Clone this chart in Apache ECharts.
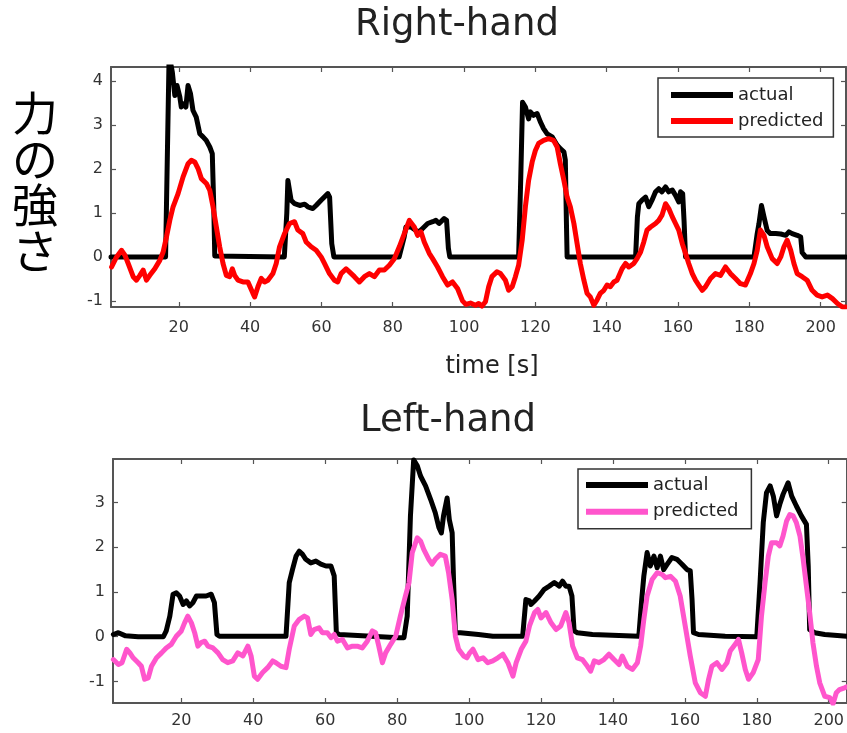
<!DOCTYPE html>
<html>
<head>
<meta charset="utf-8">
<script src="https://cdn.jsdelivr.net/npm/echarts@6/dist/echarts.min.js"></script>
<style>
html,body{margin:0;padding:0;background:#fff;}
#chart{width:847px;height:733px;}
</style>
</head>
<body>
<div id="chart"></div>
<script>
// ---------- data (time [s], force) ----------
const xTicks = [20,40,60,80,100,120,140,160,180,200];
const yTicksRight = [-1,0,1,2,3,4];
const yTicksLeft = [-1,0,1,2,3];

const rightActual = [[1,0],[16.3,0],[17.3,4.6],[18.2,4.2],[18.9,3.67],[19.5,3.9],[20.3,3.64],[20.7,3.41],[21.4,3.48],[22.0,3.41],[22.6,3.9],[23.3,3.71],[24.0,3.33],[24.9,3.18],[25.9,2.8],[26.8,2.73],[27.7,2.65],[28.7,2.5],[29.4,2.35],[29.8,1.2],[30.1,0.02],
[49.6,0],[50.3,1.0],[50.6,1.74],[51.5,1.29],[52.5,1.21],[53.9,1.17],[55.3,1.2],[56.2,1.14],[57.6,1.1],[58.5,1.17],[59.9,1.29],[61.8,1.44],[62.3,1.36],[62.9,0.3],[63.5,0],
[81.8,0],[83.2,0.45],[83.7,0.68],[85.1,0.68],[86.5,0.6],[87.4,0.57],[88.8,0.68],[89.8,0.76],[91.2,0.8],[92.1,0.83],[93.0,0.76],[94.4,0.87],[95.1,0.83],[95.6,0.2],[96,0],
[115.3,0],[115.9,1.8],[116.4,3.52],[117.2,3.41],[118.1,3.14],[118.6,3.3],[119.5,3.22],[120.5,3.26],[121.4,3.07],[122.3,2.92],[123.3,2.8],[124.7,2.73],[126.1,2.54],[127.0,2.46],[128.0,2.39],[128.4,2.2],[128.7,0.8],[128.9,0],
[148.1,0],[148.6,0.9],[149.0,1.21],[149.9,1.29],[150.9,1.36],[151.8,1.14],[152.7,1.29],[153.7,1.48],[154.6,1.55],[155.5,1.48],[156.5,1.59],[157.4,1.48],[158.4,1.52],[159.3,1.4],[160.2,1.25],[160.7,1.48],[161.3,1.44],[161.7,0.8],[162.1,0],
[181.3,0],[182.2,0.53],[182.7,0.76],[183.4,1.17],[184.1,0.91],[185.0,0.6],[185.9,0.53],[187.4,0.53],[188.8,0.52],[190.2,0.49],[191.1,0.57],[192.0,0.53],[193.4,0.49],[194.4,0.45],[194.8,0.1],[195.8,0],[207,0]];

const rightPredicted = [[1.16,-0.23],[2.56,0],[3.96,0.15],[4.89,0.04],[5.82,-0.15],[7.22,-0.45],[8.15,-0.53],[9.09,-0.42],[10.02,-0.30],[10.95,-0.53],[11.88,-0.42],[13.28,-0.27],[14.68,-0.08],[15.62,0.11],[16.55,0.45],[17.48,0.83],[18.41,1.14],[19.81,1.44],[21.21,1.82],[22.61,2.12],[23.54,2.2],[24.48,2.16],[25.41,2.01],[26.34,1.78],[27.74,1.67],[28.68,1.52],[29.61,1.14],[30.54,0.68],[31.47,0.23],[32.41,-0.15],[33.34,-0.42],[34.27,-0.45],[35.02,-0.27],[35.67,-0.42],[36.60,-0.53],[38.00,-0.57],[39.40,-0.57],[40.80,-0.83],[41.27,-0.91],[42.20,-0.68],[43.13,-0.49],[44.07,-0.57],[45.00,-0.53],[46.40,-0.38],[47.33,-0.15],[48.26,0.23],[49.66,0.53],[51.06,0.76],[52.46,0.80],[53.40,0.61],[54.79,0.53],[55.73,0.34],[57.13,0.23],[58.53,0.15],[59.93,0],[60.86,-0.15],[62.26,-0.38],[63.66,-0.53],[64.59,-0.57],[65.52,-0.38],[66.92,-0.27],[67.85,-0.34],[69.25,-0.45],[70.65,-0.57],[72.05,-0.45],[73.45,-0.38],[74.85,-0.45],[76.25,-0.30],[77.65,-0.30],[79.05,-0.19],[80.45,-0.04],[81.85,0.23],[83.25,0.53],[84.65,0.83],[86.04,0.68],[86.98,0.49],[87.91,0.57],[88.84,0.34],[90.24,0.08],[91.18,-0.04],[92.57,-0.23],[93.97,-0.45],[95.37,-0.64],[96.77,-0.57],[98.17,-0.72],[99.57,-1.0],[100.5,-1.08],[101.8,-1.05],[103.2,-1.1],[104.1,-1.06],[105.0,-1.12],[106,-1.02],[106.9,-0.68],[107.8,-0.45],[109.2,-0.34],[110.2,-0.38],[111.6,-0.53],[112.5,-0.76],[113.5,-0.68],[114.4,-0.45],[115.3,-0.19],[116.3,0.38],[117.2,1.14],[118.1,1.74],[119.1,2.16],[120,2.42],[120.9,2.58],[122.3,2.65],[123.7,2.69],[125.1,2.65],[126.1,2.5],[127.0,2.12],[128.0,1.74],[128.9,1.36],[129.8,1.14],[130.8,0.76],[131.7,0.3],[132.6,-0.15],[133.6,-0.53],[134.5,-0.83],[135.4,-0.91],[136.4,-1.1],[137.3,-0.98],[138.2,-0.83],[139.2,-0.76],[140.1,-0.64],[141,-0.68],[142,-0.57],[142.9,-0.53],[144.3,-0.27],[145.3,-0.15],[146.2,-0.23],[147.6,-0.15],[148.5,-0.04],[149.5,0.11],[150.4,0.34],[151.3,0.61],[152.3,0.68],[153.7,0.76],[154.6,0.83],[155.5,0.95],[156.5,1.21],[157.4,1.1],[158.4,0.91],[159.3,0.76],[160.2,0.61],[161.2,0.3],[162.1,0.08],[163,-0.15],[164,-0.38],[164.9,-0.53],[165.8,-0.64],[166.8,-0.76],[167.7,-0.68],[169.1,-0.49],[170.5,-0.38],[171.9,-0.42],[173.3,-0.23],[174.7,-0.38],[176.1,-0.49],[177.5,-0.61],[178.9,-0.64],[180.3,-0.38],[181.3,-0.15],[182.2,0.15],[183.1,0.61],[184.1,0.49],[185.0,0.23],[186.4,-0.04],[187.8,-0.15],[188.8,0],[189.7,0.23],[190.6,0.38],[191.6,0.15],[192.5,-0.15],[193.4,-0.38],[194.8,-0.45],[196.2,-0.53],[197.6,-0.76],[199.0,-0.87],[200.4,-0.91],[201.9,-0.87],[203.3,-0.95],[204.7,-1.06],[206.1,-1.14],[207,-1.14]];

const leftActual = [[1.1,0.05],[2.5,0.09],[4.5,0.02],[8,0],[15,0],[15.8,0.13],[16.8,0.46],[17.7,0.95],[18.6,0.98],[19.5,0.91],[20.5,0.72],[21.4,0.8],[22.3,0.69],[23.2,0.76],[24.2,0.91],[25.5,0.91],[26.9,0.91],[28.3,0.95],[29.2,0.76],[29.9,0.05],[30.6,0.01],
[49.1,0.01],[50.0,1.21],[50.9,1.5],[51.9,1.8],[52.8,1.91],[53.7,1.84],[54.6,1.73],[56,1.65],[57.4,1.69],[58.8,1.62],[60.2,1.58],[61.6,1.58],[62.5,1.36],[63.1,0.09],[63.9,0.05],
[80.5,-0.02],[81.9,-0.02],[82.8,0.46],[83.7,2.7],[84.6,3.95],[85.6,3.82],[86.5,3.59],[87.9,3.37],[89.3,3.07],[90.6,2.77],[91.6,2.44],[92.3,2.32],[92.9,2.7],[93.9,3.1],[94.5,2.62],[95.3,2.32],[95.7,1.21],[96.2,0.09],[97.6,0.09],[102.6,0.05],[106.6,0.01],
[114.9,0.01],[115.8,0.83],[116.8,0.8],[117.2,0.72],[118.2,0.8],[119.5,0.91],[120.9,1.06],[122.3,1.13],[123.7,1.21],[125.1,1.13],[126.0,1.24],[126.9,1.13],[127.8,1.13],[128.6,0.91],[129.2,0.13],[130.1,0.09],[134.3,0.05],
[147.2,0.01],[148,0.83],[148.6,1.36],[149.5,1.88],[150.4,1.58],[151.4,1.8],[152.3,1.54],[153.2,1.8],[154.1,1.5],[155.1,1.62],[156.4,1.77],[157.8,1.73],[159.2,1.62],[160.6,1.5],[161.5,1.47],[162,0.83],[162.4,0.09],[163.8,0.05],[171.2,0.01],
[180,0],[180.9,1.21],[181.8,2.55],[182.7,3.22],[183.7,3.37],[184.6,3.14],[185.5,2.7],[186.4,2.96],[187.3,3.18],[188.7,3.44],[189.7,3.14],[191,2.92],[192.4,2.7],[193.8,2.51],[194.3,1.58],[194.7,0.16],[196.1,0.09],[198.9,0.05],[205,0.01]];

const leftPredicted = [[1.1,-0.51],[2.5,-0.62],[3.5,-0.58],[4.8,-0.28],[5.7,-0.36],[6.6,-0.47],[8,-0.58],[8.9,-0.66],[9.8,-0.95],[10.8,-0.92],[11.7,-0.66],[13.1,-0.47],[14.5,-0.36],[15.8,-0.25],[17.2,-0.17],[18.6,0.01],[20,0.13],[20.9,0.31],[21.8,0.46],[22.8,0.31],[23.7,0.09],[24.6,-0.21],[25.5,-0.13],[26.5,-0.1],[27.4,-0.21],[28.8,-0.25],[30.2,-0.36],[31.5,-0.51],[32.9,-0.58],[34.3,-0.54],[35.7,-0.36],[37.1,-0.43],[38.5,-0.21],[39.4,-0.43],[40.3,-0.88],[41.2,-0.95],[42.6,-0.8],[44,-0.69],[45.4,-0.54],[46.3,-0.58],[47.7,-0.66],[49.1,-0.69],[50,-0.28],[51.4,0.24],[52.8,0.39],[54.2,0.46],[55.1,0.42],[56.0,0.05],[56.9,0.16],[58.3,0.2],[59.2,0.09],[60.6,0.09],[61.6,-0.02],[62.5,0.05],[63.4,-0.1],[64.8,-0.06],[66.2,-0.25],[67.6,-0.21],[68.9,-0.21],[70.3,-0.25],[71.7,-0.1],[73.1,0.13],[74.0,0.09],[74.9,-0.21],[75.9,-0.58],[76.8,-0.36],[78.2,-0.17],[79.6,0.01],[80.9,0.46],[82.3,0.91],[83.3,1.21],[84.2,1.88],[85.6,2.21],[86.5,2.14],[87.4,1.95],[88.8,1.73],[89.7,1.62],[90.6,1.73],[92.0,1.84],[93.4,1.8],[94.3,1.43],[95.3,0.83],[96.2,0.01],[97.1,-0.28],[98.5,-0.43],[99.4,-0.47],[100.2,-0.36],[101.1,-0.28],[102.5,-0.51],[103.9,-0.47],[105.2,-0.58],[106.6,-0.54],[108,-0.47],[109.4,-0.39],[110.8,-0.58],[112.2,-0.88],[113.1,-0.58],[114.5,-0.28],[115.8,-0.1],[116.8,0.24],[118.2,0.54],[119.1,0.61],[120,0.42],[121.4,0.54],[122.8,0.31],[124.2,0.16],[125.5,0.24],[126.9,0.54],[127.8,0.31],[128.8,-0.21],[130.1,-0.47],[131.5,-0.51],[132.9,-0.66],[133.8,-0.77],[134.8,-0.54],[136.1,-0.58],[137.5,-0.51],[138.9,-0.39],[140.3,-0.51],[141.7,-0.62],[142.6,-0.43],[144,-0.66],[145.4,-0.73],[146.8,-0.58],[147.7,-0.21],[148.6,0.39],[149.5,0.91],[150.9,1.28],[152.3,1.43],[153.7,1.39],[154.6,1.32],[156,1.35],[157.4,1.24],[158.7,0.91],[160.1,0.24],[161.5,-0.43],[162.9,-1.03],[164.3,-1.25],[165.7,-1.33],[166.6,-0.95],[167.5,-0.66],[168.9,-0.58],[170.3,-0.73],[171.7,-0.58],[172.6,-0.32],[174,-0.17],[174.9,-0.06],[175.8,-0.36],[176.8,-0.73],[177.7,-0.95],[179,-0.8],[180.4,-0.51],[181.3,0.46],[182.3,1.21],[183.2,1.8],[184.1,2.1],[185.5,2.1],[186.4,2.03],[187.3,2.25],[188.3,2.59],[189.2,2.73],[190.1,2.7],[191,2.55],[192,2.25],[192.9,1.73],[193.8,1.13],[194.7,0.54],[195.6,-0.13],[196.6,-0.66],[197.5,-1.03],[198.9,-1.33],[200.3,-1.36],[201.2,-1.5],[202.1,-1.25],[203,-1.18],[204.4,-1.14],[205,-1.12]];

// ---------- chart ----------
const FONT = 'DejaVu Sans';
const AXIS_COLOR = '#555';
const chart = echarts.init(document.getElementById('chart'));

function xAxisPair(grid, min, max, labelMargin) {
  const common = {
    type: 'value', gridIndex: grid, min: min, max: max,
    splitLine: {show: false},
    axisLine: {show: true, onZero: false, lineStyle: {color: AXIS_COLOR, width: 2}},
    axisTick: {show: true, inside: true, length: 5, customValues: xTicks, lineStyle: {color: AXIS_COLOR, width: 1.2}}
  };
  return [
    Object.assign({}, common, {position: 'bottom',
      axisLabel: {show: true, customValues: xTicks, margin: labelMargin, fontSize: 16, fontFamily: FONT, color: '#333'}}),
    Object.assign({}, common, {position: 'top', axisLabel: {show: false}})
  ];
}
function yAxisPair(grid, min, max, ticks) {
  const common = {
    type: 'value', gridIndex: grid, min: min, max: max,
    splitLine: {show: false},
    axisLine: {show: true, onZero: false, lineStyle: {color: AXIS_COLOR, width: 2}},
    axisTick: {show: true, inside: true, length: 5, customValues: ticks, lineStyle: {color: AXIS_COLOR, width: 1.2}}
  };
  return [
    Object.assign({}, common, {position: 'left',
      axisLabel: {show: true, customValues: ticks, margin: 8, fontSize: 16, fontFamily: FONT, color: '#333'}}),
    Object.assign({}, common, {position: 'right', axisLabel: {show: false}})
  ];
}

const lineSeries = (name, data, color, xi, yi) => ({
  name: name, type: 'line', data: data, xAxisIndex: xi, yAxisIndex: yi,
  showSymbol: false, symbol: 'none', smooth: false, clip: true,
  lineStyle: {color: color, width: 5, join: 'round', cap: 'round'},
  itemStyle: {color: color}, emphasis: {disabled: true}
});

const legendCommon = {
  orient: 'vertical', icon: 'rect', itemWidth: 62, itemHeight: 6,
  borderColor: '#333', borderWidth: 1.5, backgroundColor: '#fff',
  textStyle: {fontSize: 18, fontFamily: FONT, color: '#222'},
  formatter: n => n.replace('_L', ''),
  selectedMode: false
};

const option = {
  animation: false,
  backgroundColor: '#fff',
  grid: [
    {left: 111, top: 67, width: 735, height: 240, containLabel: false},
    {left: 113, top: 459, width: 736, height: 244, containLabel: false}
  ],
  xAxis: [].concat(xAxisPair(0, 1, 207.1, 13), xAxisPair(1, 1, 205, 10)),
  yAxis: [].concat(yAxisPair(0, -1.14, 4.32, yTicksRight), yAxisPair(1, -1.48, 3.97, yTicksLeft)),
  legend: [
    Object.assign({}, legendCommon, {data: ['actual', 'predicted'], left: 658, top: 78, padding: [8, 10, 7, 13], itemGap: 8}),
    Object.assign({}, legendCommon, {data: ['actual_L', 'predicted_L'], left: 578, top: 469, padding: [7, 13, 8, 8], itemGap: 8.7})
  ],
  series: [
    lineSeries('actual', rightActual, '#000000', 0, 0),
    lineSeries('predicted', rightPredicted, '#ff0000', 0, 0),
    lineSeries('actual_L', leftActual, '#000000', 2, 2),
    lineSeries('predicted_L', leftPredicted, '#ff55cc', 2, 2)
  ],
  graphic: [
    {type: 'text', x: 457, y: 25, style: {text: 'Right-hand', fontSize: 37, fontFamily: FONT, fill: '#222', align: 'center', verticalAlign: 'middle'}},
    {type: 'text', x: 448, y: 421, style: {text: 'Left-hand', fontSize: 37, fontFamily: FONT, fill: '#222', align: 'center', verticalAlign: 'middle'}},
    {type: 'text', x: 492, y: 367, style: {text: 'time [s]', fontSize: 24, fontFamily: FONT, fill: '#222', align: 'center', verticalAlign: 'middle'}},
    {type: 'text', x: 35, y: 182, style: {text: '力\nの\n強\nさ', fontSize: 46, lineHeight: 46, fontFamily: 'Noto Sans CJK JP', fill: '#000', align: 'center', verticalAlign: 'middle'}}
  ]
};
chart.setOption(option);
</script>
</body>
</html>
